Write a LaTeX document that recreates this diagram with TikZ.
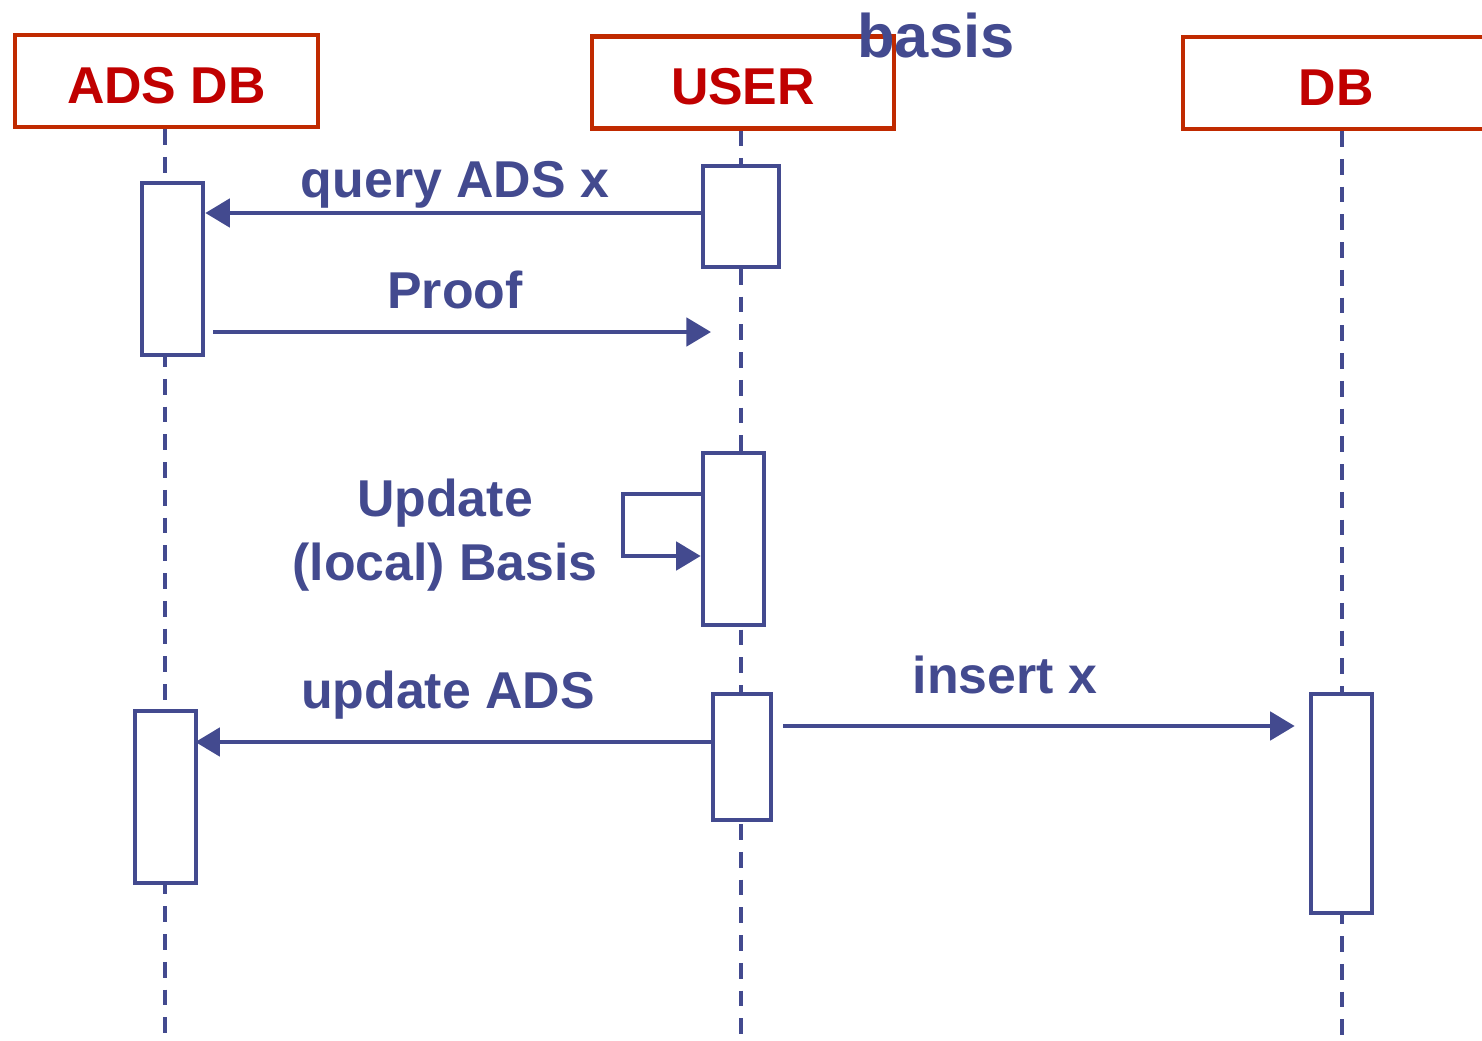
\documentclass[tikz,border=0pt]{standalone}
\usepackage{fontspec}
\setmainfont{Liberation Sans}
\usetikzlibrary{arrows.meta,calc}
\definecolor{seqblue}{RGB}{67,74,143}
\definecolor{headred}{RGB}{192,42,0}
\definecolor{txtred}{RGB}{192,0,0}
\tikzset{
  header/.style={draw=headred, line width=2.8pt, fill=white, minimum height=1.84cm,
    font=\bfseries\fontsize{29.5}{34}\selectfont, text=txtred, inner sep=0pt, text height=25.5pt},
  act/.style={draw=seqblue, line width=2.6pt, fill=white, inner sep=0pt},
  lifeline/.style={seqblue, line width=2pt, dash pattern=on 9pt off 6.8pt},
  msg/.style={seqblue, line width=2.6pt, -{Triangle[length=14pt,width=16pt]}},
  lbl/.style={text=seqblue, font=\bfseries\fontsize{29.5}{36}\selectfont, anchor=base, inner sep=0pt}
}
\begin{document}
\begin{tikzpicture}[x=0.02cm, y=-0.02cm]
\clip (0,0) rectangle (1482,1041);

% lifelines
\coordinate (adsl) at (165,1045);
\coordinate (userl) at (741,1045);
\coordinate (dbl) at (1342,1045);
\draw[lifeline] (adsl |- 0,129) -- (adsl);
\draw[lifeline] (userl |- 0,130) -- (userl);
\draw[lifeline] (dbl |- 0,131) -- (dbl);

% heads
\node[header, minimum width=6.06cm] (hads) at (166.5,81) {ADS DB};
\node[header, minimum width=6.04cm] (huser) at (743,82.5) {USER};
\node[header, minimum width=6.12cm] (hdb) at (1336,83) {DB};
\node[lbl, font=\bfseries\fontsize{35}{40}\selectfont] (basis) at (936,57) {basis};

% activations
\node[act, minimum width=1.22cm, minimum height=3.44cm] (a1) at (172.5,269) {};
\node[act, minimum width=1.52cm, minimum height=2.02cm] (u1) at (741,216.5) {};
\node[act, minimum width=1.22cm, minimum height=3.44cm] (u2) at (733.5,539) {};
\node[act, minimum width=1.16cm, minimum height=2.52cm] (u3) at (742,757) {};
\node[act, minimum width=1.22cm, minimum height=3.44cm] (a2) at (165.5,797) {};
\node[act, minimum width=1.22cm, minimum height=4.38cm] (d1) at (1341.5,803.5) {};

% message heights
\coordinate (m1) at (0,213);
\coordinate (m2) at (711,332);
\coordinate (lpa) at (623,494);
\coordinate (lpb) at (623,556);
\coordinate (m3) at (0,742);
\coordinate (m4) at (0,726);

\draw[msg] (u1.west |- m1) -- (a1.east |- m1);
\draw[msg] ($(a1.east |- m2)+(8,0)$) -- (m2);
\draw[msg] (u2.west |- lpa) -- (lpa) -- (lpb) -- (u2.west |- lpb);
\draw[msg] (u3.west |- m3) -- ($(a2.east |- m3)+(-3,0)$);
\draw[msg] ($(u3.east |- m4)+(10,0)$) -- ($(d1.west |- m4)+(-14,0)$);

% labels
\node[lbl] (lq) at (455,197) {query ADS x};
\node[lbl] (lp) at (455,308) {Proof};
\node[lbl] (lu1) at (445,516) {Update};
\node[lbl] (lu2) at (445,580) {(local) Basis};
\node[lbl] (la) at (448,708) {update ADS};
\node[lbl] (li) at (1005,693) {insert x};
\end{tikzpicture}
\end{document}
